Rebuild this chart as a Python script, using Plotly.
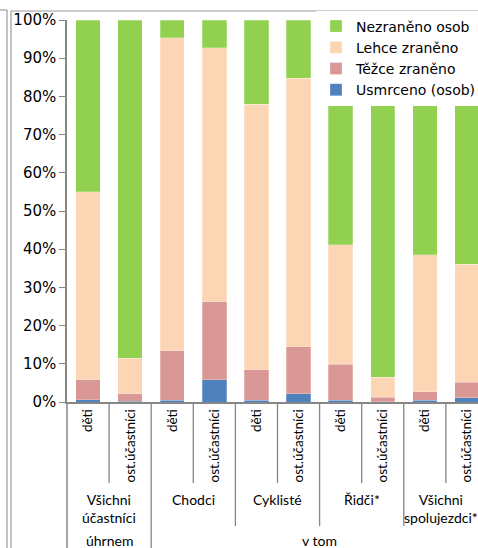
import plotly.graph_objects as go

# ---- data ----
groups = ["Všichni<br>účastníci", "Chodci", "Cyklisté", "Řidči*", "Všichni<br>spolujezdci*"]
sub_labels = ["děti", "ost.účastníci"] * 5
usmrceno = [0.6, 0.2, 0.5, 5.8, 0.5, 2.2, 0.5, 0.1, 0.5, 1.1]
tezce = [5.2, 2.0, 12.9, 20.5, 7.9, 12.3, 9.4, 1.1, 2.2, 4.1]
lehce = [49.2, 9.3, 82.0, 66.5, 69.6, 70.2, 31.3, 5.3, 35.9, 30.8]
nezraneno = [45.0, 88.5, 4.6, 7.2, 22.0, 15.3, 58.8, 93.5, 61.4, 64.0]
series_names = ["Usmrceno (osob)", "Těžce zraněno", "Lehce zraněno", "Nezraněno osob"]
series_colors = ["#4F81BD", "#D99795", "#FCD5B5", "#92D050"]
level3 = [("úhrnem", 0, 1), ("v tom", 2, 9)]
y_ticks = [0, 10, 20, 30, 40, 50, 60, 70, 80, 90, 100]
y_tick_labels = [f"{v}%" for v in y_ticks]

W, H = 478, 548
ML, MR, MT, MB = 67, 0, 20, 146
PW, PH = W - ML - MR, H - MT - MB
XMIN, XMAX = -0.5, 9.263
AX = "#868686"

def px2x(px):
    return (px - ML) / PW

def py2y(py):
    return (H - MB - py) / PH

x = list(range(len(sub_labels)))
fig = go.Figure()
for name, vals, col in zip(series_names, [usmrceno, tezce, lehce, nezraneno], series_colors):
    fig.add_trace(go.Bar(x=x, y=vals, name=name, marker=dict(color=col, line=dict(color="rgba(255,255,255,0.5)", width=0.5))))

shapes = []
# within-group dividers
for i in range(0, len(sub_labels), 2):
    shapes.append(dict(type="line", xref="x", yref="paper", x0=i + 0.5, x1=i + 0.5,
                       y0=0, y1=py2y(483), line=dict(color=AX, width=1.3)))
# group dividers
for g in range(1, len(groups)):
    xx = 2 * g - 0.5
    yb = py2y(H) if g == 1 else py2y(526)
    shapes.append(dict(type="line", xref="x", yref="paper", x0=xx, x1=xx,
                       y0=0, y1=yb, line=dict(color=AX, width=1.3)))
# left axis extension
shapes.append(dict(type="line", xref="paper", yref="paper", x0=0, x1=0, y0=0, y1=py2y(H),
                   line=dict(color=AX, width=1.5)))
# outer frame lines
FR = "#9a9a9a"
shapes += [
    dict(type="line", xref="paper", yref="paper", x0=px2x(7), x1=px2x(7), y0=py2y(10), y1=py2y(H), line=dict(color=FR, width=1.2)),
    dict(type="line", xref="paper", yref="paper", x0=px2x(11), x1=px2x(11), y0=py2y(11), y1=py2y(H), line=dict(color=FR, width=1.2)),
    dict(type="line", xref="paper", yref="paper", x0=px2x(11), x1=px2x(W), y0=py2y(11), y1=py2y(11), line=dict(color=FR, width=1.2)),
    dict(type="line", xref="paper", yref="paper", x0=px2x(0), x1=px2x(7), y0=py2y(10), y1=py2y(10), line=dict(color=FR, width=1.2)),
]

annotations = []
for g, lab in enumerate(groups):
    annotations.append(dict(x=2 * g + 0.5, y=py2y(489), xref="x", yref="paper", text=lab,
                            showarrow=False, yanchor="top", xanchor="center",
                            xshift=-5 if g == len(groups) - 1 else 0,
                            font=dict(family="Lato", size=14, color="#000")))
for lab, a, b in level3:
    annotations.append(dict(x=(a + b) / 2, y=py2y(540), xref="x", yref="paper", text=lab,
                            showarrow=False, yanchor="middle", xanchor="center",
                            font=dict(family="Lato", size=14, color="#000")))

fig.update_layout(
    width=W, height=H,
    margin=dict(l=ML, r=MR, t=MT, b=MB, autoexpand=False),
    barmode="stack", bargap=0.42,
    plot_bgcolor="white", paper_bgcolor="white",
    xaxis=dict(range=[XMIN, XMAX], tickmode="array", tickvals=x, ticktext=sub_labels,
               tickangle=-90, ticks="", showgrid=False, zeroline=False,
               showline=True, linecolor=AX, linewidth=1.5,
               tickfont=dict(family="Lato", size=13.5, color="#000")),
    yaxis=dict(range=[0, 100], tickmode="array", tickvals=y_ticks, ticktext=y_tick_labels,
               ticks="outside", ticklen=6, tickcolor=AX, tickwidth=1.3,
               showgrid=False, zeroline=False, showline=True, linecolor=AX, linewidth=1.5,
               tickfont=dict(family="DejaVu Sans", size=15, color="#000")),
    legend=dict(x=px2x(316), y=py2y(10.5), xanchor="left", yanchor="top",
                traceorder="reversed", bgcolor="white", borderwidth=0,
                font=dict(family="DejaVu Sans", size=14, color="#000")),
    shapes=shapes, annotations=annotations,
)

fig.write_html("out.html", config={"displayModeBar": False},
               post_script="document.body.style.margin='0px';document.body.style.padding='0px';document.body.style.overflow='hidden';")
